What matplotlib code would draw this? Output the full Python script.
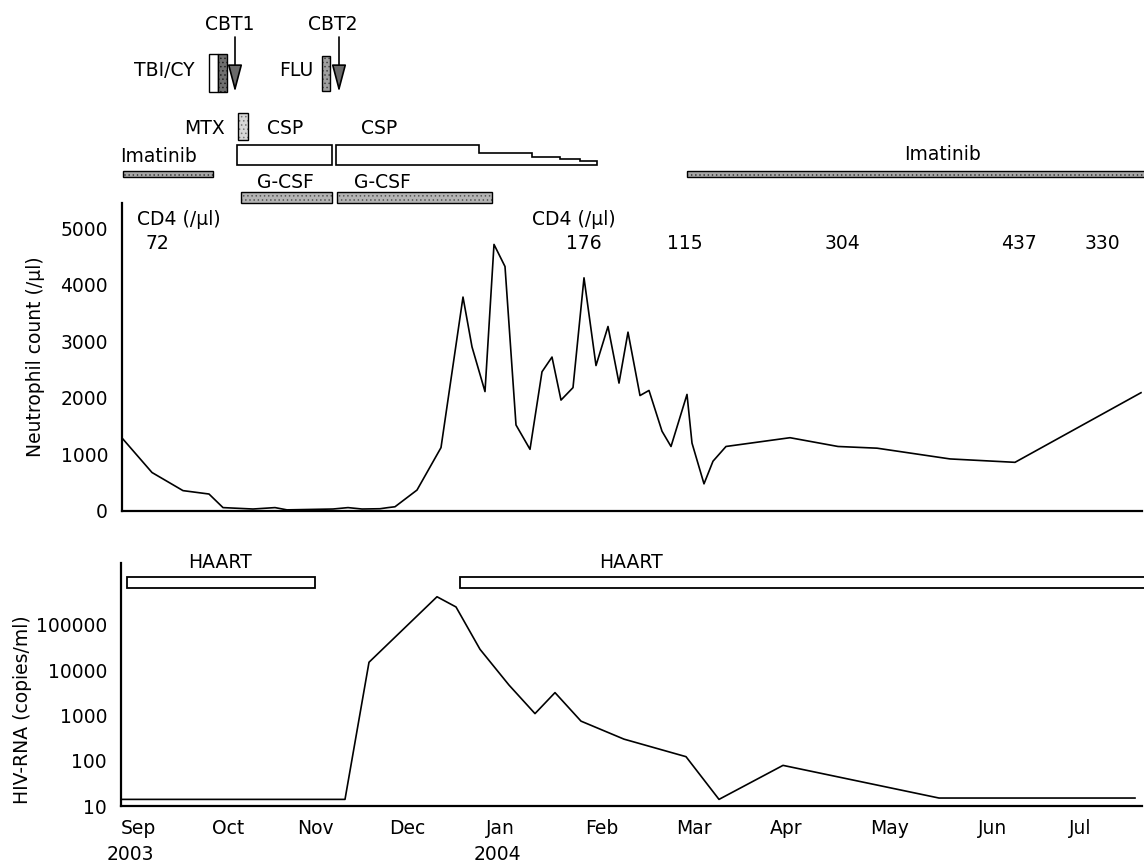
import numpy as np
import matplotlib
matplotlib.use("Agg")
from matplotlib import pyplot as plt
from matplotlib.patches import Rectangle, Polygon

plt.rcParams["font.family"] = ["DejaVu Sans"]
plt.rcParams["font.size"] = 13.5
plt.rcParams["hatch.linewidth"] = 0.6

# time axis: schematic timeline positions (same units for every panel)
month_labels = ["Sep", "Oct", "Nov", "Dec", "Jan", "Feb", "Mar", "Apr", "May", "Jun", "Jul"]
month_pos = [16, 106, 193, 285, 378, 480, 572, 664, 768, 871, 958]

# neutrophil count (/ul)
neut_t = [1, 30, 61, 87, 101, 131, 153, 165, 211, 226, 240, 258, 266, 273,
          295, 319, 341, 350, 363, 372, 383, 394, 408, 420, 430, 439, 451,
          462, 474, 486, 497, 506, 518, 527, 540, 549, 565, 570, 582, 591,
          604, 668, 716, 755, 828, 893, 1019]
neut_val = [1270, 680, 360, 300, 60, 35, 60, 20, 35, 60, 35, 40, 60, 75,
            370, 1120, 3780, 2900, 2110, 4710, 4320, 1520, 1090, 2460, 2720, 1960, 2180,
            4120, 2570, 3260, 2260, 3160, 2040, 2130, 1410, 1140, 2060, 1200, 480, 880,
            1140, 1295, 1140, 1110, 920, 860, 2090]

# HIV-RNA (copies/ml)
hiv_t = [0, 223, 247, 315, 334, 358, 387, 413, 433, 459, 502, 564, 597, 661, 817, 1013]
hiv_val = [14, 14, 15000, 420000, 250000, 29000, 4700, 1100, 3200, 750, 300, 123,
           14, 79, 15, 15]

# CD4 counts (/ul)
cd4_t = [35, 462, 563, 720, 897, 980]
cd4_val = ["72", "176", "115", "304", "437", "330"]

# treatment periods (start, end) on the timeline
haart = [(5, 193), (338, 1024)]
imatinib = [(1, 91), (565, 1024)]
gcsf = [(119, 210), (215, 370)]
csp1 = (115, 210)
csp2_steps = [214, 357, 410, 438, 458, 475]
csp2_tops = [145, 152.7, 157.3, 159.3, 161]
mtx = (116, 126)
tbi = (87, 96)
cy = (96, 105)
flu = (200, 208)
cbt = {"CBT1": 113, "CBT2": 217}

W, H = 1144, 867
fig = plt.figure(figsize=(W / 100, H / 100), dpi=100)

ax1 = fig.add_axes([122 / W, 1 - 511 / H, 1020 / W, (511 - 203) / H])
ax2 = fig.add_axes([121 / W, 1 - 806 / H, 1021 / W, (806 - 563) / H])
ax0 = fig.add_axes([122 / W, 1 - 203 / H, 1020 / W, 203 / H])

for ax in (ax1, ax2):
    for s in ("top", "right"):
        ax.spines[s].set_visible(False)
    for s in ("left", "bottom"):
        ax.spines[s].set_linewidth(1.6)
    ax.tick_params(length=0, pad=10)

# neutrophils
ax1.plot(neut_t, neut_val, color="black", lw=1.2)
ax1.set_xlim(0, 1020)
ax1.set_ylim(0, 5442)
ax1.set_yticks([0, 1000, 2000, 3000, 4000, 5000])
ax1.set_xticks([])
ax1.set_ylabel("Neutrophil count (/µl)")
ax1.yaxis.set_label_coords(-0.0755, 0.5)
ax1.text(15, 5159, "CD4 (/µl)", ha="left", va="center")
ax1.text(452, 5159, "CD4 (/µl)", ha="center", va="center")
for t, v in zip(cd4_t, cd4_val):
    ax1.text(t, 4735, v, ha="center", va="center")

# HIV-RNA
ax2.plot(hiv_t, hiv_val, color="black", lw=1.2)
ax2.set_yscale("log")
ax2.set_xlim(-1, 1020)
ax2.set_ylim(10, 2.34e6)
ax2.set_yticks([10, 100, 1000, 10000, 100000])
ax2.set_yticklabels(["10", "100", "1000", "10000", "100000"])
ax2.minorticks_off()
ax2.set_xticks(month_pos)
ax2.set_xticklabels(month_labels)
ax2.tick_params(axis="x", pad=9)
ax2.set_ylabel("HIV-RNA (copies/ml)")
ax2.yaxis.set_label_coords(-0.087, 0.395)
tr = ax2.get_xaxis_transform()
ax2.text(8, -0.2, "2003", transform=tr, ha="center", va="center")
ax2.text(375, -0.2, "2004", transform=tr, ha="center", va="center")
for a, b in haart:
    ax2.add_patch(Rectangle((a, 0.896), b - a, 0.048, transform=tr, fc="white",
                            ec="black", lw=1.3, clip_on=False))
ax2.text(98, 1.0, "HAART", transform=tr, ha="center", va="center")
ax2.text(509, 1.0, "HAART", transform=tr, ha="center", va="center")

# treatment schedule above the neutrophil panel
ax0.set_xlim(0, 1020)
ax0.set_ylim(203, 0)
ax0.axis("off")


def stipple(ax, x0, x1, y0, y1, fc, hc):
    ax.add_patch(Rectangle((x0, y0), x1 - x0, y1 - y0, fc=fc, ec=hc, lw=0,
                           hatch="....", clip_on=False))
    ax.add_patch(Rectangle((x0, y0), x1 - x0, y1 - y0, fill=False, ec="black",
                           lw=1.0, clip_on=False))


for a, b in imatinib:
    stipple(ax0, a, b, 170.5, 177, "#a8a8a8", "#3a3a3a")
for a, b in gcsf:
    stipple(ax0, a, b, 191.7, 203, "#b4b4b4", "#555555")
stipple(ax0, mtx[0], mtx[1], 113, 140, "#d8d8d8", "#777777")
stipple(ax0, flu[0], flu[1], 56, 91, "#a0a0a0", "#444444")
ax0.add_patch(Rectangle((tbi[0], 54), tbi[1] - tbi[0], 38, fc="white", ec="black", lw=1.0))
stipple(ax0, cy[0], cy[1], 54, 92, "#707070", "#202020")

ax0.add_patch(Rectangle((csp1[0], 145), csp1[1] - csp1[0], 20, fc="white", ec="black", lw=1.2))
pts = [(csp2_steps[0], 165)]
for i, top in enumerate(csp2_tops):
    pts.append((csp2_steps[i], top))
    pts.append((csp2_steps[i + 1], top))
pts.append((csp2_steps[-1], 165))
ax0.add_patch(Polygon(pts, closed=True, fc="white", ec="black", lw=1.2))

for name, t in cbt.items():
    ax0.annotate("", xy=(t, 92), xytext=(t, 37),
                 arrowprops=dict(arrowstyle="-|>,head_length=1.7,head_width=0.45",
                                 mutation_scale=10, fc="#6a6a6a", ec="black",
                                 lw=1.2, shrinkA=0, shrinkB=0))
    ax0.text(t - 5 if name == "CBT1" else t - 6, 25, name, ha="center", va="center")

ax0.text(73, 70, "TBI/CY", ha="right", va="center")
ax0.text(191, 70, "FLU", ha="right", va="center")
ax0.text(103, 128, "MTX", ha="right", va="center")
ax0.text(163, 128, "CSP", ha="center", va="center")
ax0.text(257, 128, "CSP", ha="center", va="center")
ax0.text(36, 157, "Imatinib", ha="center", va="center")
ax0.text(820, 155, "Imatinib", ha="center", va="center")
ax0.text(163, 182, "G-CSF", ha="center", va="center")
ax0.text(260, 182, "G-CSF", ha="center", va="center")

plt.savefig("out.png", dpi=100)
plt.close()
